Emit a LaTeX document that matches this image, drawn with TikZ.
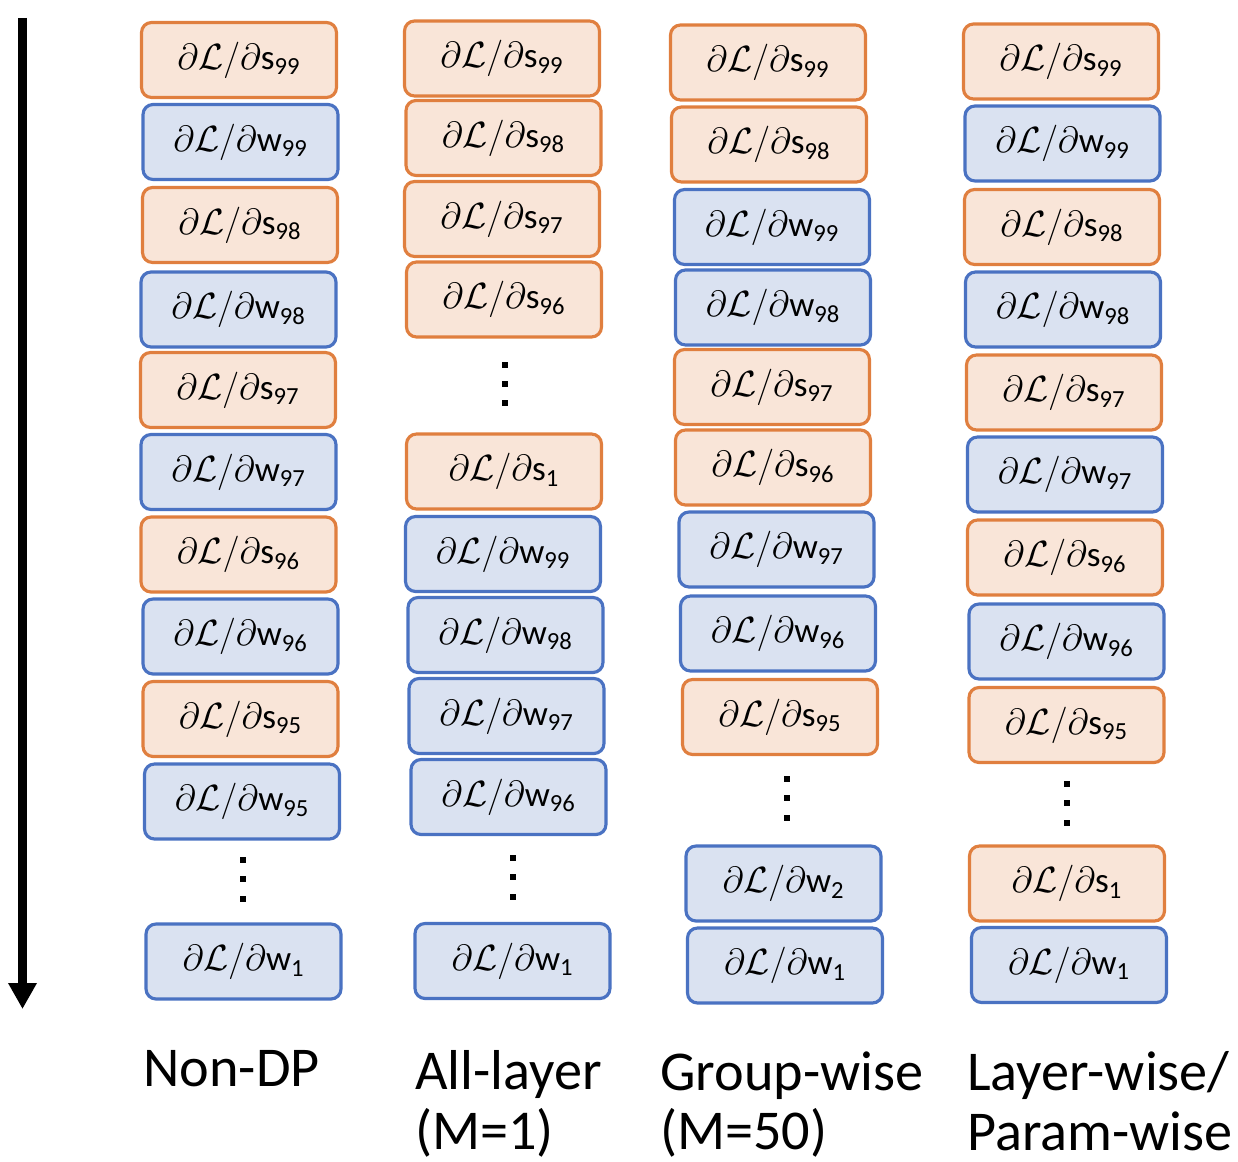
\documentclass[tikz,border=0pt]{standalone}
\usepackage{fontspec}
\setmainfont{Carlito}
\usepackage{tikz}
\usetikzlibrary{arrows.meta,positioning}
\definecolor{sedge}{HTML}{E07F3F}
\definecolor{sfill}{HTML}{F9E5D8}
\definecolor{wedge}{HTML}{4A72C2}
\definecolor{wfill}{HTML}{DAE2F1}
\newcommand{\dLs}[1]{$\partial\mathcal{L}/\partial$s\textsubscript{#1}}
\newcommand{\dLw}[1]{$\partial\mathcal{L}/\partial$w\textsubscript{#1}}

\begin{document}
\begin{tikzpicture}[x=0.02cm, y=-0.02cm,
  grad/.style={rounded corners=0.2cm, line width=1.8pt,
    minimum width=3.9cm, minimum height=1.5cm, inner sep=0pt,
    font=\fontsize{20}{24}\selectfont, align=center},
  sgrad/.style={grad, draw=sedge, fill=sfill},
  wgrad/.style={grad, draw=wedge, fill=wfill},
  dotsq/.style={fill=black, minimum size=0.13cm, inner sep=0pt},
  capt/.style={anchor=north west, inner sep=0pt, align=left,
    font=\fontsize{32}{34}\selectfont},
  timearr/.style={-{Triangle[length=0.52cm, width=0.54cm]}, line width=0.18cm},
]
\useasboundingbox (0,0) rectangle (1238,1162);

%% Time arrow
\coordinate (top) at (22.5,18);
\coordinate (bot) at (22.5,1009);
\draw[timearr] (top) -- (bot);

%% Non-DP
\node[sgrad] (ns99) at (239, 60)    {\dLs{99}};
\node[wgrad] (nw99) at (240.5, 142) {\dLw{99}};
\node[sgrad] (ns98) at (240, 225)   {\dLs{98}};
\node[wgrad] (nw98) at (238.5, 309.5) {\dLw{98}};
\node[sgrad] (ns97) at (238, 390)   {\dLs{97}};
\node[wgrad] (nw97) at (238.5, 472) {\dLw{97}};
\node[sgrad] (ns96) at (238.5, 554.5) {\dLs{96}};
\node[wgrad] (nw96) at (240.5, 636.5) {\dLw{96}};
\node[sgrad] (ns95) at (240.5, 719) {\dLs{95}};
\node[wgrad] (nw95) at (242, 801.5) {\dLw{95}};
\node[dotsq] (nd1) at (243, 860) {};
\node[dotsq] (nd2) at (243, 879) {};
\node[dotsq] (nd3) at (243, 899) {};
\node[wgrad] (nw1)  at (243.5, 961.5) {\dLw{1}};
\node[capt] (ncap) at (143, 1050) {Non-DP};

%% All-layer (M=1)
\node[sgrad] (as99) at (502, 58.5)  {\dLs{99}};
\node[sgrad] (as98) at (503.5, 138) {\dLs{98}};
\node[sgrad] (as97) at (502, 219)   {\dLs{97}};
\node[sgrad] (as96) at (504, 299.5) {\dLs{96}};
\node[dotsq] (ad1) at (505, 365) {};
\node[dotsq] (ad2) at (505, 384) {};
\node[dotsq] (ad3) at (505, 403) {};
\node[sgrad] (as1)  at (504, 471.5) {\dLs{1}};
\node[wgrad] (aw99) at (503, 554)   {\dLw{99}};
\node[wgrad] (aw98) at (505.5, 635) {\dLw{98}};
\node[wgrad] (aw97) at (506.5, 716) {\dLw{97}};
\node[wgrad] (aw96) at (508.5, 797) {\dLw{96}};
\node[dotsq] (ad4) at (513, 858) {};
\node[dotsq] (ad5) at (513, 877) {};
\node[dotsq] (ad6) at (513, 897) {};
\node[wgrad] (aw1)  at (512.5, 961) {\dLw{1}};
\node[capt] (acap) at (415, 1050) {All-layer\\(M=1)};

%% Group-wise (M=50)
\node[sgrad] (gs99) at (768, 62.5)  {\dLs{99}};
\node[sgrad] (gs98) at (769, 144.5) {\dLs{98}};
\node[wgrad] (gw99) at (772, 227)   {\dLw{99}};
\node[wgrad] (gw98) at (773, 307.5) {\dLw{98}};
\node[sgrad] (gs97) at (772, 387)   {\dLs{97}};
\node[sgrad] (gs96) at (773, 467.5) {\dLs{96}};
\node[wgrad] (gw97) at (776.5, 549.5) {\dLw{97}};
\node[wgrad] (gw96) at (778, 633.5) {\dLw{96}};
\node[sgrad] (gs95) at (780, 717)   {\dLs{95}};
\node[dotsq] (gd1) at (787, 779) {};
\node[dotsq] (gd2) at (787, 798) {};
\node[dotsq] (gd3) at (787, 818) {};
\node[wgrad] (gw2)  at (783.5, 883.5) {\dLw{2}};
\node[wgrad] (gw1)  at (785, 965.5) {\dLw{1}};
\node[capt] (gcap) at (660, 1051) {Group-wise\\(M=50)};

%% Layer-wise / Param-wise
\node[sgrad] (ls99) at (1061, 61.5)   {\dLs{99}};
\node[wgrad] (lw99) at (1062.5, 143.5) {\dLw{99}};
\node[sgrad] (ls98) at (1062, 227)    {\dLs{98}};
\node[wgrad] (lw98) at (1063, 309.5)  {\dLw{98}};
\node[sgrad] (ls97) at (1064, 392.5)  {\dLs{97}};
\node[wgrad] (lw97) at (1065, 474.5)  {\dLw{97}};
\node[sgrad] (ls96) at (1065, 557.5)  {\dLs{96}};
\node[wgrad] (lw96) at (1066.5, 641.5) {\dLw{96}};
\node[sgrad] (ls95) at (1066.5, 725)  {\dLs{95}};
\node[dotsq] (ld1) at (1067, 784) {};
\node[dotsq] (ld2) at (1067, 803) {};
\node[dotsq] (ld3) at (1067, 823) {};
\node[sgrad] (ls1)  at (1067, 883.5)  {\dLs{1}};
\node[wgrad] (lw1)  at (1069, 965)    {\dLw{1}};
\node[capt] (lcap) at (967, 1051) {Layer-wise/\\Param-wise};

\end{tikzpicture}
\end{document}
